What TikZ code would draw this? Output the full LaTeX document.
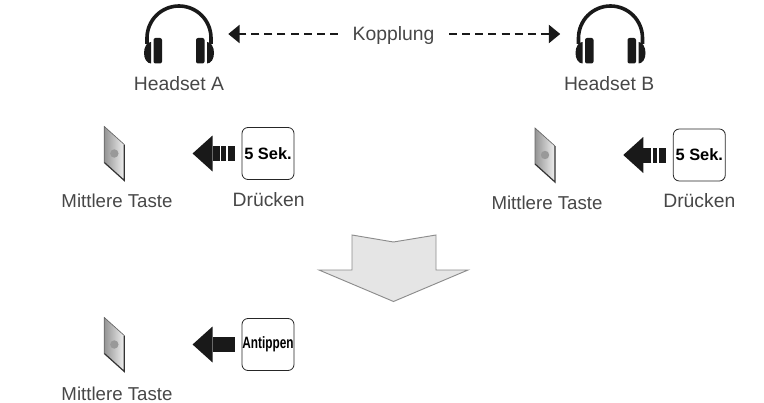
\documentclass[tikz,border=0pt]{standalone}
\usepackage{fontspec}
\setmainfont{Liberation Sans}
\usetikzlibrary{arrows.meta,positioning}
\begin{document}
\begin{tikzpicture}[x=.75pt, y=-.75pt,
  every node/.style = {inner sep=0pt, font=\fontsize{14.5}{16}\selectfont, text=black!72},
  tastelabel/.style = {font=\fontsize{14}{16}\selectfont},
  headsetbox/.style = {minimum width=51pt, minimum height=45pt},
  tastebox/.style = {minimum width=15pt, minimum height=40.5pt},
  buttonbox/.style = {shape=rectangle, rounded corners=4.5pt, draw=black!85, line width=.6pt,
    minimum size=39pt, text=black, font=\fontsize{12.3}{14}\selectfont\bfseries},
  pairing/.style = {black!90, line width=1.6pt, dash pattern=on 6pt off 3.8pt,
    -{Triangle[length=8.5pt,width=13.5pt]}, shorten <=11pt},
  fatarrow/.style = {black!90, line width=11.25pt, -{Triangle[length=15pt,width=27pt,line width=0pt]},
    shorten <=5.2pt, shorten >=51pt},
  holdarrow/.style = {fatarrow, dash pattern=on 5.2pt off 1.3pt on 3.4pt off 1.1pt on 60pt},
  headset/.pic = {
    \draw[black!90, line width=2.7pt] (-32,10) -- (-32,4) arc (180:360:32) -- (32,10);
    \foreach \side in {-1,1} {
      \begin{scope}[xscale=\side]
        \fill[black!90, rounded corners=1.5pt] (17,4) rectangle (25.5,29.5);
        \fill[black!90] (28,8) .. controls (32,8) and (35,13) .. (35,19)
          .. controls (35,25) and (32,29.5) .. (28,29.5) -- cycle;
      \end{scope}
    }
  },
  taste/.pic = {
    \path[left color=black!42, right color=black!6] (-10,-27) -- (10,-9) -- (10,27) -- (-10,9) -- cycle;
    \draw[black!60, line width=.5pt] (-10,9) -- (-10,-27) -- (10,-9);
    \draw[black!80, line width=.9pt] (10,-9) -- (10,27) -- (-10,9);
    \fill[black!40] (0,0) circle (4.2);
  }]
  \useasboundingbox (0,0) rectangle (764,403);

  % top row
  \node[headsetbox] (headsetA) at (179,34) {};
  \node[headsetbox] (headsetB) at (610.5,34) {};
  \pic at (headsetA) {headset};
  \pic at (headsetB) {headset};
  \node (kopplung) at (393.5,36) {Kopplung};
  \node[below=9pt of headsetA] (labelA) {Headset A};
  \node[below=9pt of headsetB, xshift=-1pt] (labelB) {Headset B};
  \draw[pairing, shorten >=11.25pt] (kopplung.west |- headsetA.east) -- (headsetA.east);
  \draw[pairing, shorten >=12pt] (kopplung.east |- headsetB.west) -- (headsetB.west);

  % second row
  \node[tastebox] (tasteA) at (114.3,153.5) {};
  \node[tastebox] (tasteB) at (545,155) {};
  \pic at (tasteA) {taste};
  \pic at (tasteB) {taste};
  \node[buttonbox] (buttonA) at (268,153.5) {5 Sek.};
  \node[buttonbox] (buttonB) at (699.3,155) {5 Sek.};
  \draw[holdarrow] (buttonA.west) -- (tasteA.east);
  \draw[holdarrow] (buttonB.west) -- (tasteB.east);
  \node[tastelabel, below=9.5pt of tasteA, xshift=2pt] (mittelA) {Mittlere Taste};
  \node[tastelabel, below=9.8pt of tasteB, xshift=1.5pt] (mittelB) {Mittlere Taste};
  \node[below=9.5pt of buttonA, xshift=.5pt] (drueckenA) {Drücken};
  \node[below=8.5pt of buttonB] (drueckenB) {Drücken};

  % big arrow
  \draw[black!45, fill=black!10, line width=.7pt] (352,235) -- (393.5,242) -- (436,235) -- (436,270)
    -- (468,270) -- (393.5,301.5) -- (319,270) -- (352,270) -- cycle;

  % third row
  \node[tastebox] (tasteC) at (114.3,344.5) {};
  \pic at (tasteC) {taste};
  \node[buttonbox] (buttonC) at (268,344.5) {\scalebox{.72}[1]{Antippen}};
  \draw[fatarrow] (buttonC.west) -- (tasteC.east);
  \node[tastelabel, below=11pt of tasteC, xshift=2pt] (mittelC) {Mittlere Taste};
\end{tikzpicture}
\end{document}
